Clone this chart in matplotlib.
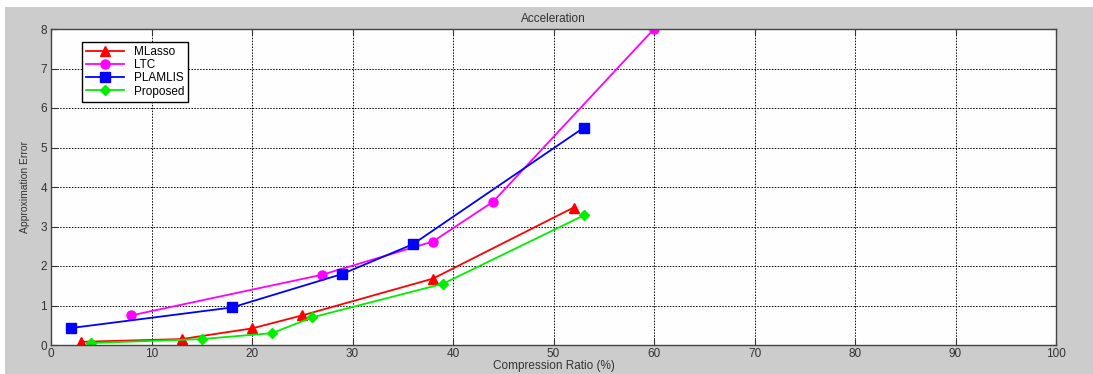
import matplotlib.pyplot as plt
import matplotlib.patches as mpatches

plt.rcParams['font.family'] = ['Liberation Sans', 'DejaVu Sans']

mlasso_x = [3, 13, 20, 25, 38, 52]
mlasso_y = [0.08, 0.15, 0.42, 0.75, 1.68, 3.48]
ltc_x = [8, 27, 38, 44, 60]
ltc_y = [0.75, 1.78, 2.62, 3.63, 8.0]
plamlis_x = [2, 18, 29, 36, 53]
plamlis_y = [0.43, 0.95, 1.80, 2.55, 5.50]
proposed_x = [4, 15, 22, 26, 39, 53]
proposed_y = [0.05, 0.15, 0.30, 0.70, 1.55, 3.28]

fig = plt.figure(figsize=(10.93, 3.74), dpi=100, facecolor='white')
# gray matlab-like figure panel
fig.patches.append(mpatches.Rectangle((5 / 1093, 0), 1 - 5 / 1093, 1 - 7 / 374,
                                      transform=fig.transFigure, facecolor='#cccccc',
                                      edgecolor='none', zorder=-10))
ax = fig.add_axes([51 / 1093, 29 / 374, 1005 / 1093, 316 / 374])
ax.set_facecolor('#fefefe')

ax.plot(mlasso_x, mlasso_y, color='red', marker='^', markersize=6.5, linewidth=1.3, label='MLasso')
ax.plot(ltc_x, ltc_y, color='magenta', marker='o', markersize=6.5, linewidth=1.3, label='LTC')
ax.plot(plamlis_x, plamlis_y, color='blue', marker='s', markersize=6.5, linewidth=1.3, label='PLAMLIS')
ax.plot(proposed_x, proposed_y, color='#00ee00', marker='D', markersize=5.5, linewidth=1.3, label='Proposed')

ax.set_xlim(0, 100)
ax.set_ylim(0, 8)
ax.set_xticks(range(0, 101, 10))
ax.set_yticks(range(0, 9))
ax.grid(True, color='black', linestyle=(0, (1.5, 1.5)), linewidth=0.7)
ax.tick_params(direction='in', labelsize=8.5, length=4, top=True, right=True,
               labeltop=False, labelright=False, colors='#333333', labelcolor='#333333')
ax.tick_params(axis='x', pad=2)
ax.tick_params(axis='y', pad=3)
for s in ax.spines.values():
    s.set_color('#444444')
    s.set_linewidth(1.0)

ax.set_title('Acceleration', fontsize=8.5, color='#333333', pad=5)
ax.set_xlabel('Compression Ratio (%)', fontsize=8.5, color='#333333', labelpad=0)
ax.set_ylabel('Approximation Error', fontsize=7.5, color='#333333', labelpad=7)

leg = ax.legend(loc='upper left', bbox_to_anchor=(0.031, 0.959), borderaxespad=0,
                fancybox=False, framealpha=1, edgecolor='black', fontsize=8.5,
                handlelength=3.2, labelspacing=0.1, borderpad=0.35)
leg.get_frame().set_linewidth(1.0)

fig.savefig('out.png', dpi=100, facecolor=fig.get_facecolor())
